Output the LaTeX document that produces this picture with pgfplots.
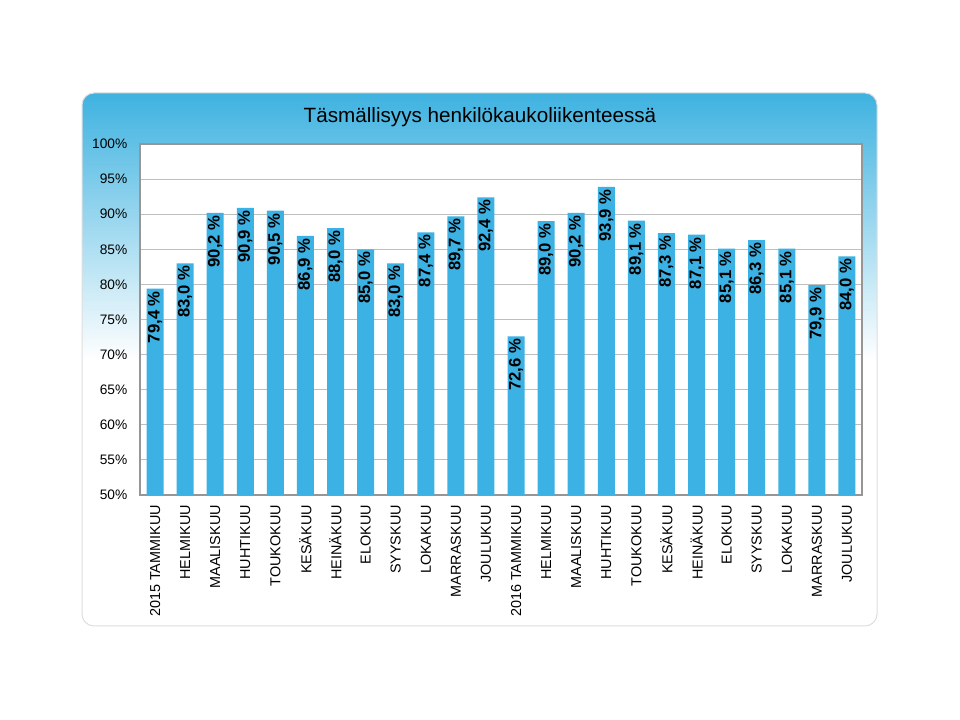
\documentclass[border=0pt]{standalone}
\usepackage{fontspec}
\setmainfont{Liberation Sans}
\usepackage{pgfplots}
\pgfplotsset{compat=1.18}
\usepackage{pgfplotstable}
\definecolor{barblue}{RGB}{60,178,228}
\definecolor{panelblue}{RGB}{62,178,224}
\definecolor{gridgray}{RGB}{190,190,190}
\definecolor{axisgray}{RGB}{150,150,150}
\definecolor{panelborder}{RGB}{222,222,222}

\pgfplotstableread{
x y lab
0 79.4 79,4
1 83.0 83,0
2 90.2 90,2
3 90.9 90,9
4 90.5 90,5
5 86.9 86,9
6 88.0 88,0
7 85.0 85,0
8 83.0 83,0
9 87.4 87,4
10 89.7 89,7
11 92.4 92,4
12 72.6 72,6
13 89.0 89,0
14 90.2 90,2
15 93.9 93,9
16 89.1 89,1
17 87.3 87,3
18 87.1 87,1
19 85.1 85,1
20 86.3 86,3
21 85.1 85,1
22 79.9 79,9
23 84.0 84,0
}\datatable

\begin{document}
\begin{tikzpicture}
\path[use as bounding box] (0,0) rectangle (720pt,540pt);
\fill[white] (0,0) rectangle (720pt,540pt);
\begin{scope}
\clip[rounded corners=9pt] (61.5pt,70.5pt) rectangle (657.75pt,470.25pt);
\fill[white] (61.5pt,70.5pt) rectangle (657.75pt,470.25pt);
\shade[top color=panelblue, bottom color=white] (61.5pt,270pt) rectangle (657.75pt,470.25pt);
\end{scope}
\draw[rounded corners=9pt, panelborder, line width=0.75pt] (61.5pt,70.5pt) rectangle (657.75pt,470.25pt);
\node[anchor=base, font=\fontsize{15.5}{18}\selectfont] at (360pt,447.75pt) {Täsmällisyys henkilökaukoliikenteessä};
\begin{axis}[
 at={(105pt,168.75pt)}, anchor=south west,
 scale only axis, width=541.5pt, height=263.25pt,
 axis background/.style={fill=white},
 ybar, bar width=12.75pt,
 xmin=-0.5, xmax=23.5, ymin=50, ymax=100,
 ytick={50,55,...,100},
 yticklabel={\pgfmathprintnumber{\tick}\%},
 /pgf/number format/assume math mode=true,
 xtick=data,
 xticklabels={2015 TAMMIKUU, HELMIKUU, MAALISKUU, HUHTIKUU, TOUKOKUU, KESÄKUU, HEINÄKUU, ELOKUU, SYYSKUU, LOKAKUU, MARRASKUU, JOULUKUU, 2016 TAMMIKUU, HELMIKUU, MAALISKUU, HUHTIKUU, TOUKOKUU, KESÄKUU, HEINÄKUU, ELOKUU, SYYSKUU, LOKAKUU, MARRASKUU, JOULUKUU},
 x tick label style={rotate=90, anchor=east, font=\fontsize{10.8}{12}\selectfont},
 y tick label style={font=\fontsize{10.3}{12}\selectfont},
 xticklabel shift=4pt, yticklabel shift=6pt,
 ymajorgrids, grid style={gridgray, line width=0.75pt},
 major tick length=0pt,
 axis line style={axisgray, line width=1.1pt},
 nodes near coords={\pgfplotspointmeta~\%},
 point meta=explicit symbolic,
 every node near coord/.append style={rotate=90, anchor=east, font=\bfseries\fontsize{12.5}{14}\selectfont, inner sep=1.8pt, text=black},
]
\addplot[fill=barblue, draw=none] table[x=x,y=y,meta=lab] {\datatable};
\end{axis}
\end{tikzpicture}
\end{document}
